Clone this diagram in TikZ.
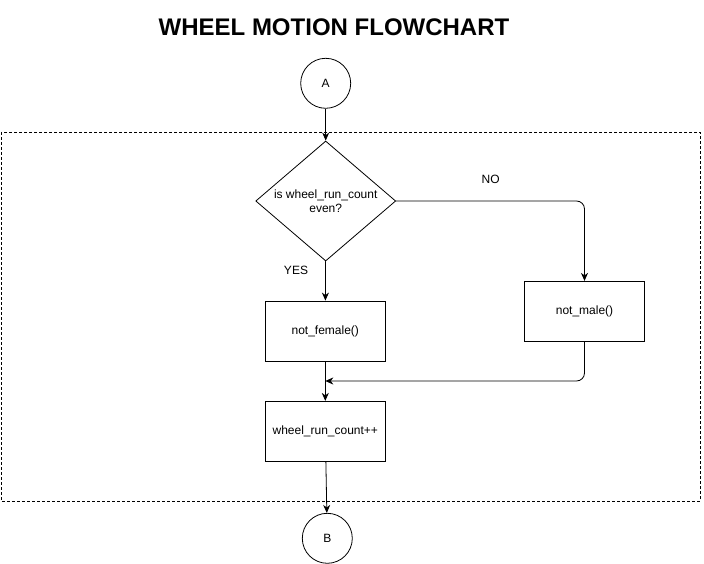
\documentclass[tikz,border=0pt]{standalone}
\usepackage{fontspec}
\setmainfont{Liberation Sans}
\usetikzlibrary{shapes.geometric,arrows.meta,positioning}

\tikzset{
  terminal/.style={draw, circle, line width=0.8pt, minimum size=50pt, inner sep=0pt, font=\fontsize{12}{14}\selectfont},
  decision/.style={draw, diamond, line width=0.8pt, minimum width=140pt, minimum height=120pt, aspect=1.1667, inner sep=0pt, align=center, font=\fontsize{12}{14}\selectfont},
  process/.style={draw, rectangle, line width=0.8pt, minimum width=120pt, minimum height=60pt, inner sep=0pt, font=\fontsize{12}{14}\selectfont},
  flow/.style={line width=0.8pt, -{Stealth[length=8pt,width=7pt,inset=2.5pt]}},
  lbl/.style={font=\fontsize{12}{14}\selectfont}
}

\begin{document}
\begin{tikzpicture}[x=1pt,y=-1pt]
    \useasboundingbox (0,0) rectangle (704,564);

    % Title
    \node[font=\fontsize{24}{28}\selectfont\bfseries] (title) at (334,27) {WHEEL MOTION FLOWCHART};

    % Dashed frame around the loop body
    \draw[line width=0.8pt, dash pattern=on 3pt off 2pt] (1,132) rectangle (700,501);

    % Nodes
    \node[terminal] (startA) at (325.7,83.3) {A};
    \node[decision] (isEven) at (325.7,201) {is wheel\_run\_count\\even?};
    \node[process] (notFemale) at (325.3,331) {not\_female()};
    \node[process] (notMale) at (584.5,311.3) {not\_male()};
    \node[process] (incCount) at (325.3,431.3) {wheel\_run\_count++};
    \node[terminal] (endB) at (327.3,538.3) {B};
    \coordinate (merge) at (325.3,381);

    % Connectors
    \draw[flow] (startA) -- (isEven);
    \draw[flow] (isEven) -- (notFemale);
    \draw[flow, rounded corners=8pt] (isEven.east) -| (notMale.north);
    \draw[flow, rounded corners=8pt] (notMale.south) |- (merge);
    \draw[flow] (notFemale) -- (incCount);
    \draw[flow] (incCount) -- (endB);

    % Branch labels
    \node[lbl] (yesLbl) at (296,270) {YES};
    \node[lbl] (noLbl) at (490.7,179.5) {NO};
\end{tikzpicture}
\end{document}
